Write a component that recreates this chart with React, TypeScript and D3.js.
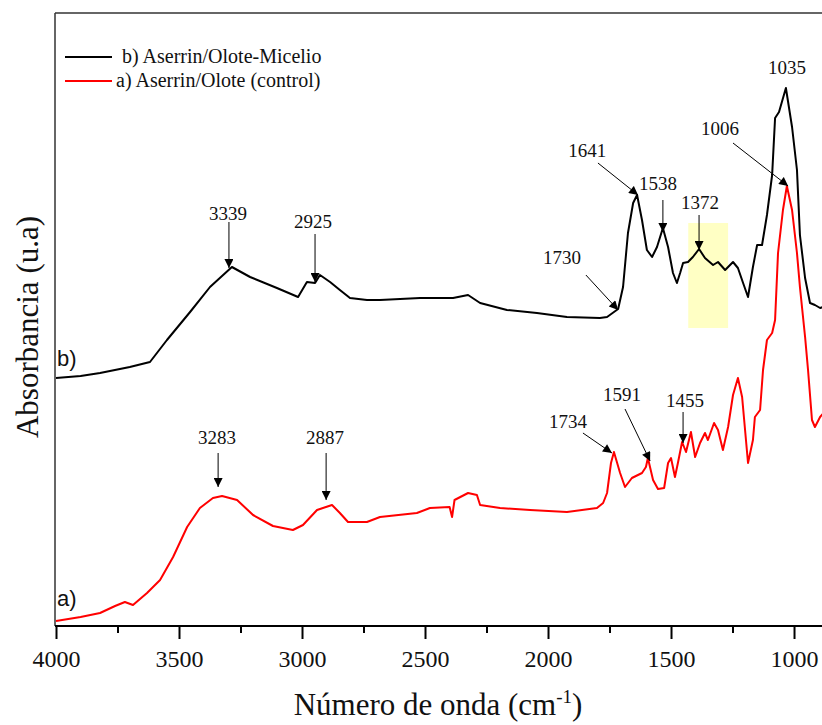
import React, { useEffect, useRef } from "react";
import * as d3 from "d3";

// spectrum b) Aserrin/Olote-Micelio : [wavenumber, absorbance (u.a)]
const micelio: [number, number][] = [
  [4000, 2.48], [3900, 2.5], [3821, 2.53], [3700, 2.59], [3618, 2.64], [3549, 2.86],
  [3455, 3.14], [3374, 3.39], [3285, 3.59], [3211, 3.49], [3102, 3.38], [3016, 3.29],
  [2980, 3.44], [2947, 3.43], [2927, 3.51], [2886, 3.44], [2846, 3.36], [2805, 3.28],
  [2736, 3.26], [2683, 3.26], [2520, 3.28], [2386, 3.28], [2325, 3.31], [2276, 3.23],
  [2167, 3.16], [2045, 3.13], [1923, 3.09], [1789, 3.08], [1760, 3.09], [1715, 3.17],
  [1695, 3.39], [1675, 3.93], [1654, 4.23], [1638, 4.31], [1618, 4.06], [1598, 3.76],
  [1577, 3.69], [1557, 3.79], [1533, 3.98], [1512, 3.79], [1492, 3.53], [1476, 3.43],
  [1463, 3.53], [1451, 3.63], [1431, 3.64], [1411, 3.69], [1386, 3.77], [1362, 3.68],
  [1329, 3.61], [1309, 3.64], [1280, 3.56], [1248, 3.64], [1228, 3.58], [1207, 3.43],
  [1187, 3.29], [1167, 3.59], [1150, 3.81], [1130, 3.81], [1110, 4.11], [1089, 4.51],
  [1077, 5.08], [1061, 5.14], [1033, 5.38], [1008, 4.99], [988, 4.56], [976, 3.91],
  [955, 3.48], [935, 3.23], [915, 3.21], [894, 3.18], [870, 3.2],
];

// spectrum a) Aserrin/Olote (control)
const control: [number, number][] = [
  [4000, 0.05], [3900, 0.09], [3821, 0.13], [3760, 0.2], [3720, 0.24], [3687, 0.21],
  [3630, 0.33], [3577, 0.46], [3524, 0.69], [3467, 0.99], [3415, 1.18], [3362, 1.28],
  [3325, 1.3], [3264, 1.26], [3199, 1.11], [3118, 1.0], [3037, 0.96], [2996, 1.01],
  [2939, 1.16], [2878, 1.21], [2846, 1.13], [2813, 1.04], [2736, 1.04], [2683, 1.09],
  [2533, 1.13], [2480, 1.18], [2400, 1.19], [2390, 1.09], [2380, 1.26], [2325, 1.33],
  [2289, 1.31], [2276, 1.21], [2195, 1.18], [2073, 1.16], [1923, 1.14], [1801, 1.18],
  [1776, 1.23], [1760, 1.33], [1744, 1.63], [1732, 1.74], [1707, 1.53], [1687, 1.39],
  [1659, 1.48], [1618, 1.53], [1602, 1.59], [1594, 1.68], [1573, 1.46], [1553, 1.37],
  [1528, 1.38], [1512, 1.63], [1500, 1.68], [1484, 1.49], [1472, 1.63], [1455, 1.84],
  [1439, 1.74], [1419, 1.94], [1402, 1.69], [1382, 1.83], [1362, 1.93], [1350, 1.86],
  [1325, 2.03], [1309, 1.96], [1289, 1.76], [1268, 1.99], [1248, 2.31], [1228, 2.48],
  [1211, 2.29], [1199, 1.96], [1187, 1.63], [1167, 1.86], [1159, 2.09], [1138, 2.16],
  [1126, 2.56], [1110, 2.86], [1089, 2.93], [1077, 3.06], [1065, 3.73], [1045, 4.16],
  [1029, 4.4], [1008, 4.16], [988, 3.73], [976, 3.39], [955, 2.89], [943, 2.56],
  [927, 2.06], [915, 1.99], [894, 2.09], [870, 2.16],
];

const majorTicks = [4000, 3500, 3000, 2500, 2000, 1500, 1000];
const minorTicks = [3750, 3250, 2750, 2250, 1750, 1250];

// peak labels: text position, arrow start, arrow tip (wavenumber, u.a)
const peaks = [
  { label: "3339", text: [3301, 4.13], from: [3297, 4.04], to: [3297, 3.58] },
  { label: "2925", text: [2955, 4.05], from: [2947, 3.92], to: [2947, 3.44] },
  { label: "1641", text: [1841, 4.76], from: [1797, 4.63], to: [1634, 4.31] },
  { label: "1538", text: [1553, 4.43], from: [1533, 4.26], to: [1533, 3.94] },
  { label: "1372", text: [1382, 4.24], from: [1386, 4.11], to: [1386, 3.76] },
  { label: "1006", text: [1301, 4.98], from: [1248, 4.83], to: [1024, 4.4] },
  { label: "1035", text: [1029, 5.59], from: null, to: null },
  { label: "1730", text: [1943, 3.69], from: [1846, 3.51], to: [1715, 3.16] },
  { label: "3283", text: [3346, 1.89], from: [3341, 1.73], to: [3341, 1.39] },
  { label: "2887", text: [2907, 1.89], from: [2902, 1.73], to: [2902, 1.26] },
  { label: "1734", text: [1919, 2.05], from: [1858, 1.93], to: [1740, 1.73] },
  { label: "1591", text: [1699, 2.32], from: [1687, 2.17], to: [1585, 1.65] },
  { label: "1455", text: [1443, 2.26], from: [1451, 2.14], to: [1451, 1.83] },
];

const highlightX = [1430, 1268];
const highlightY = [2.98, 4.03];

const serif = "'Liberation Serif', 'Times New Roman', serif";
const sans = "'Liberation Sans', Arial, sans-serif";

const W = 822;
const H = 725;
const left = 55;
const top = 13;
const bottom = 626;

export default function App() {
  const axisRef = useRef<SVGGElement>(null);
  const minorRef = useRef<SVGGElement>(null);

  const x = d3.scaleLinear().domain([4000, 870]).range([56, 826]);
  const y = d3.scaleLinear().domain([0, 6.13]).range([bottom, top]);

  const line = d3
    .line<[number, number]>()
    .x((d) => x(d[0]))
    .y((d) => y(d[1]));

  useEffect(() => {
    const g = d3.select(axisRef.current);
    g.call(
      d3.axisBottom(x).tickValues(majorTicks).tickSize(13).tickSizeOuter(0).tickPadding(11).tickFormat(d3.format("d"))
    );
    g.attr("font-family", null).attr("font-size", null);
    g.select(".domain").remove();
    g.selectAll("line").attr("stroke", "#000").attr("stroke-width", 2);
    g.selectAll("text")
      .style("font-family", serif)
      .style("font-size", "24px")
      .attr("fill", "#111");

    const m = d3.select(minorRef.current);
    m.call(d3.axisBottom(x).tickValues(minorTicks).tickSize(7).tickSizeOuter(0).tickFormat(() => ""));
    m.select(".domain").remove();
    m.selectAll("line").attr("stroke", "#000").attr("stroke-width", 2);
  }, []);

  const serifStyle = { fontFamily: serif };

  return (
    <svg width={W} height={H} style={{ position: "absolute", left: 0, top: 0, background: "#fff" }}>
      <defs>
        <clipPath id="plot">
          <rect x={left} y={top} width={W - left} height={bottom - top} />
        </clipPath>
        <marker id="head" viewBox="0 0 10 10" refX="10" refY="5" markerWidth="11" markerHeight="9" markerUnits="userSpaceOnUse" orient="auto">
          <path d="M0,0 L10,5 L0,10 z" fill="#000" />
        </marker>
      </defs>

      <rect
        x={x(highlightX[0])}
        y={y(highlightY[1])}
        width={x(highlightX[1]) - x(highlightX[0])}
        height={y(highlightY[0]) - y(highlightY[1])}
        fill="#ffffc4"
      />

      <g clipPath="url(#plot)">
        <path d={line(micelio) || ""} fill="none" stroke="#000" strokeWidth={2} strokeLinejoin="round" />
        <path d={line(control) || ""} fill="none" stroke="#ff0000" strokeWidth={2} strokeLinejoin="round" />
      </g>

      {/* frame */}
      <line x1={left} x2={W} y1={top} y2={top} stroke="#333" strokeWidth={1.5} />
      <line x1={left} x2={left} y1={top} y2={bottom} stroke="#333" strokeWidth={1.5} />
      <line x1={left} x2={W} y1={bottom} y2={bottom} stroke="#000" strokeWidth={2} />
      <g ref={axisRef} transform={`translate(0,${bottom})`} />
      <g ref={minorRef} transform={`translate(0,${bottom})`} />

      {peaks.map((p) => (
        <g key={p.label}>
          <text
            x={x(p.text[0])}
            y={y(p.text[1])}
            dy="0.35em"
            textAnchor="middle"
            style={serifStyle}
            fontSize={19}
            fill="#111"
          >
            {p.label}
          </text>
          {p.from && p.to && (
            <line
              x1={x(p.from[0])}
              y1={y(p.from[1])}
              x2={x(p.to[0])}
              y2={y(p.to[1])}
              stroke="#000"
              strokeWidth={1}
              markerEnd="url(#head)"
            />
          )}
        </g>
      ))}

      {/* legend */}
      <line x1={65} x2={112} y1={57} y2={57} stroke="#000" strokeWidth={2} />
      <text x={122} y={63} style={serifStyle} fontSize={20} fill="#111">
        b) Aserrin/Olote-Micelio
      </text>
      <line x1={65} x2={112} y1={81} y2={81} stroke="#ff0000" strokeWidth={2} />
      <text x={116} y={87} style={serifStyle} fontSize={20} fill="#111">
        a) Aserrin/Olote (control)
      </text>

      <text x={57} y={366} style={{ fontFamily: sans }} fontSize={22} fill="#111">b)</text>
      <text x={57} y={606} style={{ fontFamily: sans }} fontSize={22} fill="#111">a)</text>

      <text
        transform={`translate(38,327) rotate(-90)`}
        textAnchor="middle"
        style={serifStyle}
        fontSize={31}
        fill="#111"
      >
        Absorbancia (u.a)
      </text>
      <text x={438} y={715} textAnchor="middle" style={serifStyle} fontSize={31} fill="#111">
        Número de onda (cm<tspan dy={-12} fontSize={19}>-1</tspan>
        <tspan dy={12}>)</tspan>
      </text>
    </svg>
  );
}
